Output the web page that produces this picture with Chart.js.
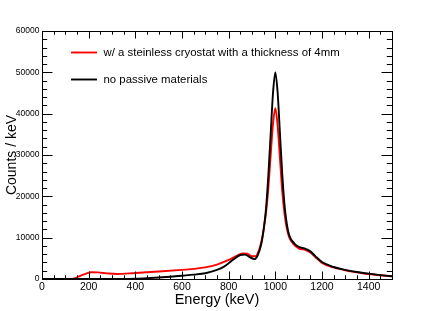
<!DOCTYPE html>
<html>
<head>
<meta charset="utf-8">
<script src="https://cdn.jsdelivr.net/npm/chart.js@4.4.1/dist/chart.umd.min.js"></script>
<style>
  html, body { margin: 0; padding: 0; background: #fff; }
  canvas { display: block; }
</style>
</head>
<body>
<canvas id="spec" width="436" height="311"></canvas>
<script>
/* ── energy spectrum: cryostat vs no passive material ── */

const xTicks = [0, 200, 400, 600, 800, 1000, 1200, 1400];
const yTicks = [0, 10000, 20000, 30000, 40000, 50000, 60000];

const redLabel = 'w/ a steinless cryostat with a thickness of 4mm';
const blackLabel = 'no passive materials';

// 带不锈钢杜瓦
const redE = [0, 100, 130, 150, 180, 210, 240, 280, 320, 400, 500, 600, 650, 700, 750, 800, 830, 860, 880, 900, 915, 930, 940, 950, 960, 970, 980, 990, 1000, 1010, 1020, 1030, 1040, 1050, 1060, 1080, 1100, 1130, 1150, 1170, 1200, 1250, 1300, 1350, 1400, 1450, 1500];
const redCounts = [0, 0, 0, 400, 1100, 1650, 1600, 1350, 1200, 1450, 1800, 2200, 2450, 2800, 3500, 4600, 5500, 6200, 6100, 5500, 5500, 7000, 9000, 12000, 16000, 22000, 30000, 37500, 41300, 37000, 29000, 21000, 15500, 12000, 10000, 8300, 7400, 7000, 6400, 5400, 3900, 2800, 2100, 1600, 1200, 900, 650];

// 无被动材料
const blackE = [0, 350, 400, 450, 500, 550, 600, 650, 700, 750, 780, 800, 820, 850, 870, 890, 910, 925, 940, 950, 960, 970, 980, 990, 1000, 1010, 1020, 1030, 1040, 1050, 1060, 1080, 1100, 1130, 1150, 1170, 1200, 1250, 1300, 1350, 1400, 1450, 1500];
const blackCounts = [0, 0, 50, 200, 350, 550, 800, 1050, 1400, 2200, 3000, 3800, 4700, 5800, 5900, 5300, 4800, 5800, 8500, 12000, 17000, 25000, 35000, 45000, 50000, 45000, 35000, 25000, 17500, 13000, 10500, 8700, 7800, 7300, 6700, 5600, 4100, 2900, 2200, 1700, 1300, 950, 650];

const FONT = '"Liberation Sans", Arial, Helvetica, sans-serif';

const toPoints = (xs, ys) => xs.map((x, i) => ({ x, y: ys[i] }));

// ROOT 风格: 四边内向刻度 + 边框 + 图例
const rootFrame = {
    id: 'rootFrame',
    beforeDraw(chart) {
        const { ctx, width, height } = chart;
        ctx.save();
        ctx.fillStyle = '#fff';
        ctx.fillRect(0, 0, width, height);
        ctx.restore();
    },
    afterDatasetsDraw(chart) {
        const { ctx, chartArea: a, scales } = chart;
        const sx = scales.x, sy = scales.y;
        ctx.save();
        ctx.strokeStyle = '#000';
        ctx.lineWidth = 1;
        ctx.beginPath();

        // x 刻度 (每 50 一个小刻度)
        for (let v = 0; v <= 1500; v += 50) {
            const px = Math.round(sx.getPixelForValue(v)) + 0.5;
            const len = v % 200 === 0 ? 7.5 : 3.7;
            ctx.moveTo(px, a.bottom); ctx.lineTo(px, a.bottom - len);
            ctx.moveTo(px, a.top); ctx.lineTo(px, a.top + len);
        }
        // y 刻度 (每 2000 一个小刻度)
        for (let v = 0; v <= 60000; v += 2000) {
            const py = Math.round(sy.getPixelForValue(v)) + 0.5;
            const len = v % 10000 === 0 ? 10.5 : 5.2;
            ctx.moveTo(a.left, py); ctx.lineTo(a.left + len, py);
            ctx.moveTo(a.right, py); ctx.lineTo(a.right - len, py);
        }
        ctx.stroke();
        ctx.strokeRect(Math.round(a.left) + 0.5, Math.round(a.top) + 0.5,
            Math.round(a.right - a.left), Math.round(a.bottom - a.top));

        // 图例
        const rows = [
            { label: redLabel, color: '#ff0000', y: 52.5 },
            { label: blackLabel, color: '#000000', y: 79.5 },
        ];
        ctx.font = `11.4px ${FONT}`;
        ctx.textBaseline = 'middle';
        ctx.textAlign = 'left';
        rows.forEach(r => {
            ctx.strokeStyle = r.color;
            ctx.lineWidth = 1.9;
            ctx.beginPath();
            ctx.moveTo(71, r.y); ctx.lineTo(97, r.y);
            ctx.stroke();
            ctx.fillStyle = '#000';
            ctx.fillText(r.label, 103.5, r.y);
        });
        ctx.restore();
    },
};

new Chart(document.getElementById('spec').getContext('2d'), {
    type: 'scatter',
    data: {
        datasets: [
            {
                label: blackLabel,
                data: toPoints(blackE, blackCounts),
                showLine: true,
                borderColor: '#000000',
                borderWidth: 1.9,
                pointRadius: 0,
                cubicInterpolationMode: 'monotone',
            },
            {
                label: redLabel,
                data: toPoints(redE, redCounts),
                showLine: true,
                borderColor: '#ff0000',
                borderWidth: 1.9,
                pointRadius: 0,
                cubicInterpolationMode: 'monotone',
            },
        ],
    },
    options: {
        responsive: false,
        animation: false,
        layout: { padding: { left: 0, top: 31, right: 44, bottom: 0 } },
        plugins: {
            legend: { display: false },
            tooltip: { enabled: false },
        },
        scales: {
            x: {
                type: 'linear',
                min: 0,
                max: 1500,
                grid: { display: false, drawTicks: false },
                border: { display: false },
                afterBuildTicks: s => { s.ticks = xTicks.map(v => ({ value: v })); },
                afterFit: s => { s.height = 32; },
                ticks: {
                    color: '#000',
                    padding: 2,
                    maxRotation: 0,
                    autoSkip: false,
                    font: { family: FONT, size: 10.5 },
                    callback: v => String(v),
                },
                title: {
                    display: true,
                    text: 'Energy (keV)',
                    color: '#000',
                    padding: { top: 0, bottom: 2.5 },
                    font: { family: FONT, size: 14.5 },
                },
            },
            y: {
                type: 'linear',
                min: 0,
                max: 60000,
                grid: { display: false, drawTicks: false },
                border: { display: false },
                afterBuildTicks: s => { s.ticks = yTicks.map(v => ({ value: v })); },
                afterFit: s => { s.width = 42; },
                ticks: {
                    color: '#000',
                    padding: 2.5,
                    autoSkip: false,
                    font: { family: FONT, size: 8.5 },
                    callback: v => String(v),
                },
                title: {
                    display: true,
                    text: 'Counts / keV',
                    color: '#000',
                    padding: { top: 3.5, bottom: 0 },
                    font: { family: FONT, size: 14 },
                },
            },
        },
    },
    plugins: [rootFrame],
});
</script>
</body>
</html>
